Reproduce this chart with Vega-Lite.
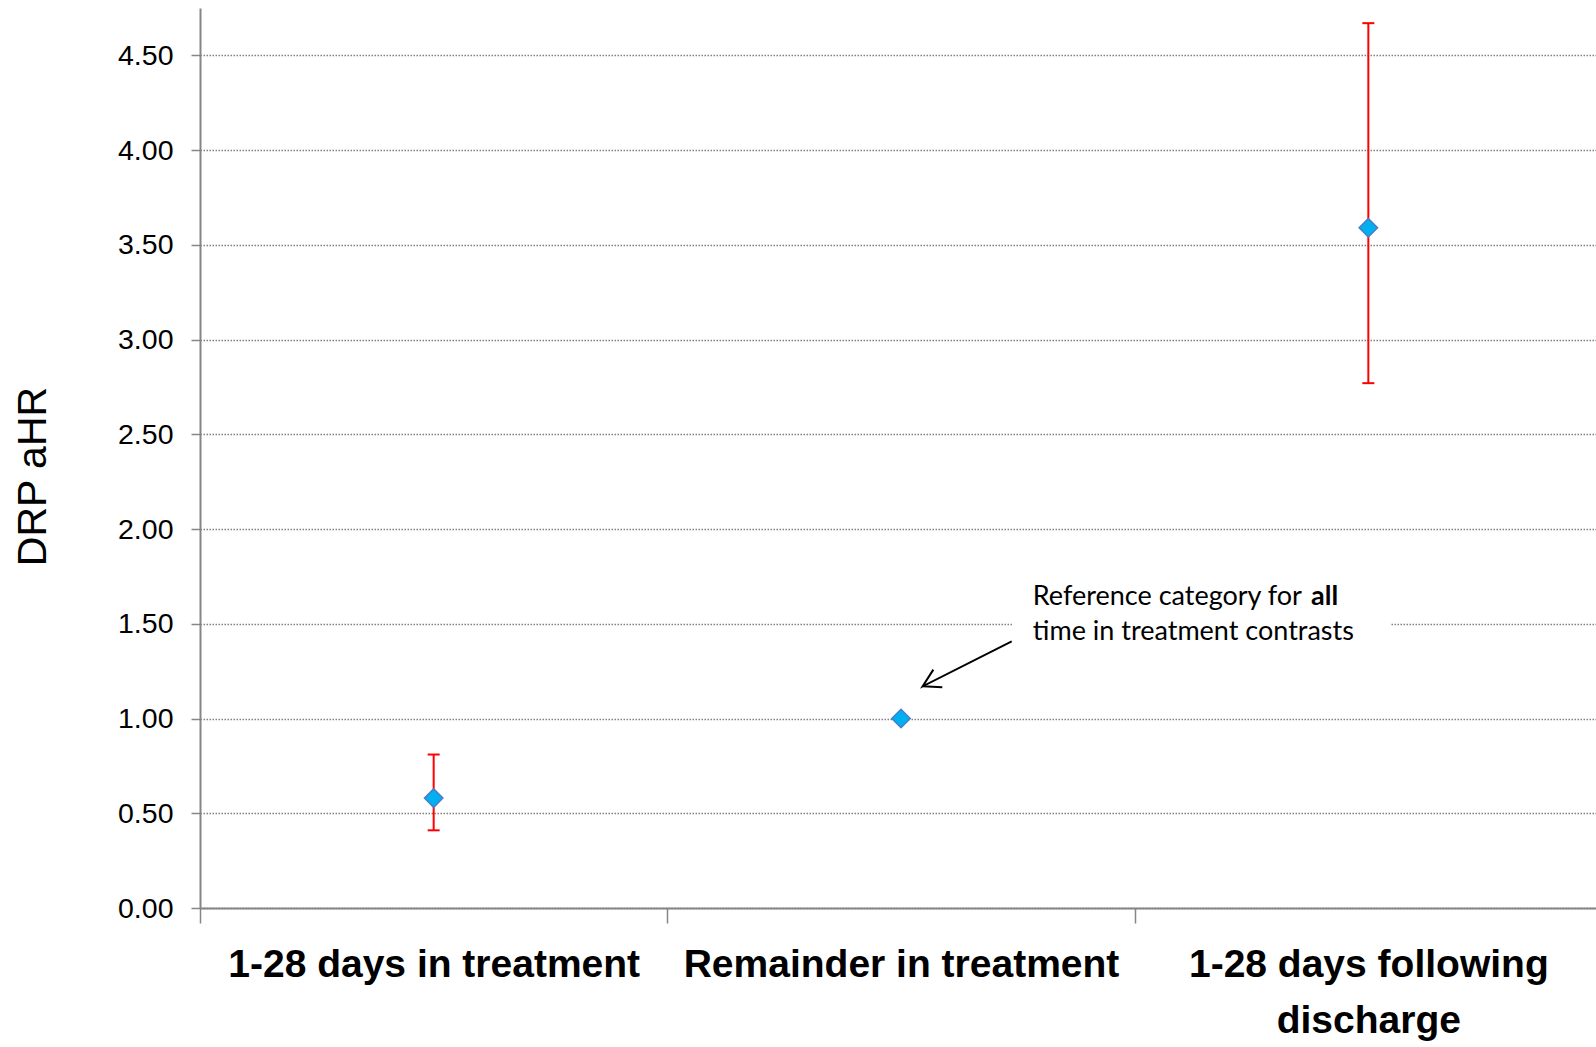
{
  "$schema": "https://vega.github.io/schema/vega-lite/v6.json",
  "width": 1396,
  "height": 900,
  "autosize": {"type": "none"},
  "padding": {"left": 200, "top": 8, "right": 0, "bottom": 139},
  "background": "white",
  "config": {
    "view": {"stroke": null},
    "axisY": {
      "labelFont": "Liberation Sans, sans-serif",
      "labelFontSize": 28.5,
      "labelColor": "#000000",
      "labelPadding": 18,
      "tickSize": 9,
      "tickColor": "#868686",
      "tickWidth": 1.5,
      "domainColor": "#868686",
      "domainWidth": 2,
      "grid": true,
      "gridColor": "#808080",
      "gridDash": [1.5, 1.5],
      "gridWidth": 1.4,
      "titleFont": "Liberation Sans, sans-serif",
      "titleFontSize": 41,
      "titleFontWeight": "normal",
      "titleColor": "#000000",
      "titleX": -167,
      "titleY": 468,
      "titleAlign": "center",
      "titleBaseline": "middle",
      "titleAngle": -90
    },
    "axisX": {
      "labelFont": "Liberation Sans, sans-serif",
      "labelFontWeight": "bold",
      "labelFontSize": 39,
      "labelColor": "#000000",
      "labelAngle": 0,
      "labelLimit": 0,
      "labelPadding": 22,
      "labelBaseline": "top",
      "labelLineHeight": 56,
      "tickSize": 15,
      "tickColor": "#868686",
      "tickWidth": 1.5,
      "domainColor": "#868686",
      "domainWidth": 2,
      "grid": false
    }
  },
  "datasets": {
    "est": [
      {"period": "1-28 days in treatment", "hr": 0.58, "lo": 0.41, "hi": 0.81},
      {"period": "Remainder in treatment", "hr": 1.0, "lo": null, "hi": null},
      {"period": "1-28 days following discharge", "hr": 3.59, "lo": 2.77, "hi": 4.67}
    ],
    "box": [
      {"x0": 1.7376, "x1": 2.5464, "y0": 1.338, "y1": 1.786}
    ],
    "note": [
      {"part": "line1", "ax": 1.782, "ay": 1.601, "t": "Reference category for"},
      {"part": "bold", "ax": 2.3775, "ay": 1.601, "t": "all"},
      {"part": "line2", "ax": 1.782, "ay": 1.417, "t": "time in treatment contrasts"}
    ],
    "arrow": [
      {"part": "a", "seq": 1, "ax": 1.5692, "ay": 1.2582},
      {"part": "a", "seq": 2, "ax": 1.5465, "ay": 1.17},
      {"part": "a", "seq": 3, "ax": 1.7369, "ay": 1.4076},
      {"part": "b", "seq": 1, "ax": 1.5465, "ay": 1.17},
      {"part": "b", "seq": 2, "ax": 1.5884, "ay": 1.1647}
    ]
  },
  "resolve": {"scale": {"x": "independent"}, "axis": {"x": "independent"}},
  "layer": [
    {
      "data": {"name": "est"},
      "encoding": {
        "x": {
          "field": "period",
          "type": "nominal",
          "sort": ["1-28 days in treatment", "Remainder in treatment", "1-28 days following discharge"],
          "scale": {"domain": ["1-28 days in treatment", "Remainder in treatment", "1-28 days following discharge"], "range": [0, 1402], "paddingInner": 0, "paddingOuter": 0},
          "axis": {
            "title": null,
            "tickBand": "extent",
            "labelExpr": "datum.value == '1-28 days following discharge' ? ['1-28 days following', 'discharge'] : datum.label"
          }
        }
      },
      "layer": [
        {
          "transform": [{"filter": "datum.lo != null"}],
          "mark": {"type": "rule", "color": "#FF0000", "strokeWidth": 2},
          "encoding": {
            "y": {"field": "lo", "type": "quantitative", "title": "DRP aHR", "scale": {"domain": [0, 4.75], "nice": false}},
            "y2": {"field": "hi"}
          }
        },
        {
          "transform": [{"filter": "datum.lo != null"}],
          "mark": {"type": "tick", "color": "#FF0000", "thickness": 2, "size": 12, "opacity": 1},
          "encoding": {
            "y": {"field": "lo", "type": "quantitative", "title": "DRP aHR", "scale": {"domain": [0, 4.75], "nice": false}}
          }
        },
        {
          "transform": [{"filter": "datum.hi != null"}],
          "mark": {"type": "tick", "color": "#FF0000", "thickness": 2, "size": 12, "opacity": 1},
          "encoding": {
            "y": {"field": "hi", "type": "quantitative", "title": "DRP aHR", "scale": {"domain": [0, 4.75], "nice": false}}
          }
        },
        {
          "mark": {"type": "point", "shape": "diamond", "filled": true, "fill": "#00B0F0", "stroke": "#4A7EC5", "strokeWidth": 1.5, "size": 340, "opacity": 1},
          "encoding": {
            "y": {
              "field": "hr",
              "type": "quantitative",
              "title": "DRP aHR",
              "scale": {"domain": [0, 4.75], "nice": false},
              "axis": {"values": [0, 0.5, 1, 1.5, 2, 2.5, 3, 3.5, 4, 4.5], "format": ".2f"}
            }
          }
        }
      ]
    },
    {
      "layer": [
        {
          "data": {"name": "box"},
          "mark": {"type": "rect", "fill": "white"},
          "encoding": {
            "x": {"field": "x0", "type": "quantitative", "scale": {"domain": [0, 3], "range": [0, 1402], "nice": false, "zero": false}, "axis": null},
            "x2": {"field": "x1"},
            "y": {"field": "y0", "type": "quantitative", "title": "DRP aHR", "scale": {"domain": [0, 4.75], "nice": false}},
            "y2": {"field": "y1"}
          }
        },
        {
          "data": {"name": "note"},
          "transform": [{"filter": "datum.part != 'bold'"}],
          "mark": {"type": "text", "font": "Lato", "fontSize": 27, "color": "#000000", "align": "left", "baseline": "alphabetic"},
          "encoding": {
            "x": {"field": "ax", "type": "quantitative", "scale": {"domain": [0, 3], "range": [0, 1402], "nice": false, "zero": false}, "axis": null},
            "y": {"field": "ay", "type": "quantitative", "title": "DRP aHR", "scale": {"domain": [0, 4.75], "nice": false}},
            "text": {"field": "t"}
          }
        },
        {
          "data": {"name": "note"},
          "transform": [{"filter": "datum.part == 'bold'"}],
          "mark": {"type": "text", "font": "Lato", "fontSize": 27, "fontWeight": "bold", "color": "#000000", "align": "left", "baseline": "alphabetic"},
          "encoding": {
            "x": {"field": "ax", "type": "quantitative", "scale": {"domain": [0, 3], "range": [0, 1402], "nice": false, "zero": false}, "axis": null},
            "y": {"field": "ay", "type": "quantitative", "title": "DRP aHR", "scale": {"domain": [0, 4.75], "nice": false}},
            "text": {"field": "t"}
          }
        },
        {
          "data": {"name": "arrow"},
          "mark": {"type": "line", "color": "#000000", "strokeWidth": 2},
          "encoding": {
            "x": {"field": "ax", "type": "quantitative", "scale": {"domain": [0, 3], "range": [0, 1402], "nice": false, "zero": false}, "axis": null},
            "y": {"field": "ay", "type": "quantitative", "title": "DRP aHR", "scale": {"domain": [0, 4.75], "nice": false}},
            "detail": {"field": "part", "type": "nominal"},
            "order": {"field": "seq", "type": "quantitative"}
          }
        }
      ]
    }
  ]
}
